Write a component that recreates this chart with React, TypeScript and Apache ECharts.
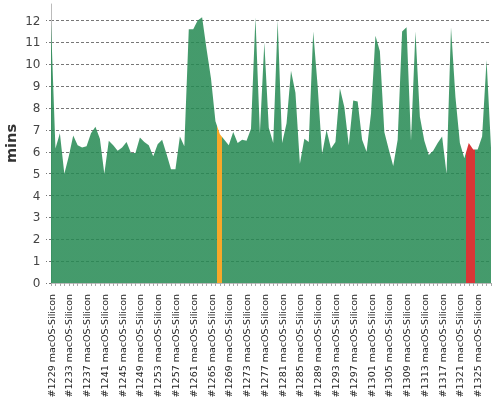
import { useEffect, useRef } from "react";
import * as echarts from "echarts";

// minutes per build, #1229 .. #1328
const values = [
  11.9, 6.15, 6.85, 5.0, 5.8, 6.75, 6.3, 6.2, 6.25, 6.85,
  7.15, 6.6, 5.0, 6.5, 6.3, 6.05, 6.2, 6.45, 5.95, 5.95,
  6.65, 6.45, 6.3, 5.8, 6.35, 6.55, 5.9, 5.2, 5.2, 6.7,
  6.25, 11.6, 11.6, 12.0, 12.15, 10.7, 9.35, 7.4, 6.8, 6.55,
  6.3, 6.9, 6.4, 6.55, 6.5, 7.05, 12.15, 6.85, 11.0, 7.1,
  6.4, 12.0, 6.4, 7.3, 9.7, 8.7, 5.45, 6.6, 6.45, 11.5,
  9.0, 5.9, 7.0, 6.15, 6.45, 8.9, 8.05, 6.3, 8.35, 8.3,
  6.55, 6.0, 7.75, 11.3, 10.6, 6.9, 6.1, 5.35, 6.55, 11.5,
  11.7, 6.5, 11.5, 7.6, 6.5, 5.85, 6.05, 6.4, 6.7, 5.0,
  11.7, 8.5, 6.4, 5.7, 6.4, 6.1, 6.1, 6.7, 10.2, 6.2,
];
const firstBuild = 1229;
const categories = values.map((_, i) => `#${firstBuild + i} macOS-Silicon`);

// highlighted builds (x ranges in build index)
const warnRange = [37.4, 38.5];
const failRange = [93.4, 95.4];

export default function App() {
  const elRef = useRef<HTMLDivElement>(null);

  useEffect(() => {
    if (!elRef.current) return;
    const chart = echarts.init(elRef.current, null, { renderer: "svg" });
    chart.setOption({
      animation: false,
      textStyle: { fontFamily: "DejaVu Sans" },
      grid: { left: 51, right: 9, top: 4, bottom: 117, containLabel: false, outerBoundsMode: "none" },
      xAxis: {
        type: "value",
        min: 0,
        max: values.length - 1,
        interval: 4,
        offset: 2,
        axisLine: { show: true, lineStyle: { color: "#bbb" } },
        axisTick: { show: true, length: 3, lineStyle: { color: "#aaa" } },
        minorTick: { show: true, splitNumber: 4, length: 3, lineStyle: { color: "#aaa" } },
        splitLine: { show: false },
        axisLabel: {
          rotate: 90,
          margin: 9,
          fontSize: 9.5,
          color: "#222",
          showMaxLabel: false,
          formatter: (v: number) => categories[v] ?? "",
        },
      },
      yAxis: {
        type: "value",
        min: 0,
        max: (v: { max: number }) => v.max * 1.05,
        interval: 1,
        offset: 2.5,
        name: "mins",
        nameLocation: "middle",
        nameGap: 30,
        nameMoveOverlap: false,
        nameTextStyle: { fontSize: 14.5, fontWeight: "bold", color: "#333" },
        axisLine: { show: true, lineStyle: { color: "#bbb" } },
        axisTick: { show: true, length: 5, lineStyle: { color: "#777", type: [2, 2] } },
        axisLabel: { fontSize: 12, color: "#444", margin: 8, showMaxLabel: false },
        splitLine: { show: true, showMaxLine: false, lineStyle: { color: "#777", type: [3, 2] } },
      },
      visualMap: {
        show: false,
        type: "piecewise",
        dimension: 0,
        seriesIndex: 0,
        pieces: [
          { gte: warnRange[0], lt: warnRange[1], color: "#f7a829" },
          { gte: failRange[0], lt: failRange[1], color: "#d93636" },
        ],
        outOfRange: { color: "rgba(36,137,82,0.85)" },
      },
      series: [
        {
          type: "line",
          data: values.map((v, i) => [i, v]),
          showSymbol: false,
          symbol: "none",
          lineStyle: { width: 0 },
          areaStyle: { opacity: 1 },
        },
      ],
    });
    return () => chart.dispose();
  }, []);

  return <div ref={elRef} style={{ position: "fixed", left: 0, top: 0, width: 500, height: 400 }} />;
}
